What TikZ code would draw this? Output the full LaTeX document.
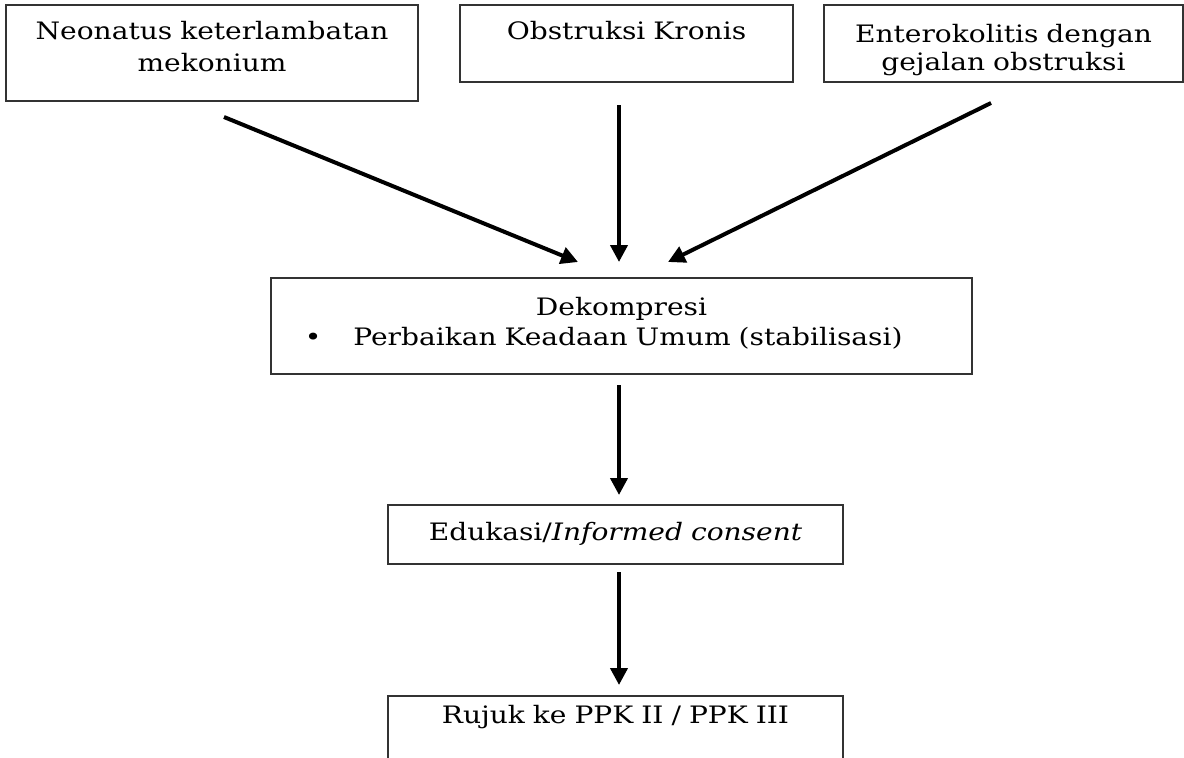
\documentclass[tikz,border=0pt]{standalone}
\usepackage{fontspec}
\setmainfont{DejaVu Serif}[FakeStretch=1.17]
\usetikzlibrary{arrows.meta,positioning}

\begin{document}
\begin{tikzpicture}[x=1pt, y=-1pt, every node/.style={font=\fontsize{24}{32}\selectfont}, box/.style={draw=black!80, line width=2pt, inner sep=0pt, align=center, anchor=north west}, arr/.style={-{Triangle[length=17pt,width=17pt]}, line width=4pt}]
\useasboundingbox (0,0) rectangle (1184,758);
\clip (0,0) rectangle (1184,758);
\node[box, text width=412pt, text height=34pt, text depth=62pt] (neonatus) at (5,4) {Neonatus keterlambatan\\mekonium};
\node[box, text width=333pt, text height=34pt, text depth=43pt] (obstruksi) at (459,4) {Obstruksi Kronis};
\node[box, text width=359pt, text height=37pt, text depth=40pt, font=\fontsize{24}{28}\selectfont] (entero) at (823,4) {Enterokolitis dengan\\gejalan obstruksi};
\node[box, text width=701pt, text height=37pt, text depth=59pt, font=\fontsize{24}{30}\selectfont] (dekom) at (270,277) {Dekompresi\\\hspace*{13pt}\makebox[0pt][r]{\textbullet\hspace{32pt}}Perbaikan Keadaan Umum (stabilisasi)};
\node[box, text width=455pt, text height=35pt, text depth=24pt] (edukasi) at (387,504) {Edukasi/\textit{Informed consent}};
\node[box, text width=455pt, text height=27pt, text depth=80pt] (rujuk) at (387,695) {Rujuk ke PPK II / PPK III};
\draw[arr] ([xshift=12pt,yshift=-15pt]neonatus.south) -- ([xshift=-43.5pt,yshift=15pt]dekom.north);
\draw[arr] ([xshift=-7.5pt,yshift=-22pt]obstruksi.south) -- ([xshift=-2.5pt,yshift=15pt]dekom.north);
\draw[arr] ([xshift=-12.5pt,yshift=-20pt]entero.south) -- ([xshift=46.5pt,yshift=15pt]dekom.north);
\draw[arr] ([xshift=-2.5pt,yshift=-10pt]dekom.south) -- ([xshift=3.5pt,yshift=9pt]edukasi.north);
\draw[arr] ([xshift=3.5pt,yshift=-7pt]edukasi.south) -- ([xshift=3.5pt,yshift=10pt]rujuk.north);
\end{tikzpicture}
\end{document}
